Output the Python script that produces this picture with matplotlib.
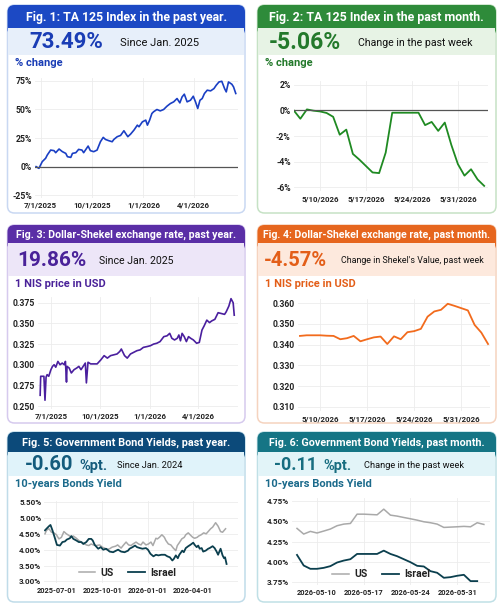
import pandas as pd
import matplotlib
matplotlib.use('Agg')
import matplotlib.pyplot as plt
import matplotlib.dates as mdates
from matplotlib.patches import FancyBboxPatch, Rectangle
from matplotlib.ticker import FuncFormatter
from matplotlib import font_manager

# ---- Fig. 1: TA 125, past year (% change)
ta_year_dates = ['2025-06-23', '2025-06-28', '2025-07-04', '2025-07-10', '2025-07-13', '2025-07-19',
                 '2025-07-25', '2025-07-28', '2025-08-03', '2025-08-09', '2025-08-15', '2025-08-18',
                 '2025-08-24', '2025-08-27', '2025-09-02', '2025-09-07', '2025-09-13', '2025-09-16',
                 '2025-09-24', '2025-09-28', '2025-10-04', '2025-10-10', '2025-10-16', '2025-10-21',
                 '2025-10-25', '2025-10-31', '2025-11-06', '2025-11-09', '2025-11-15', '2025-11-21',
                 '2025-11-27', '2025-11-30', '2025-12-04', '2025-12-09', '2025-12-15', '2025-12-21',
                 '2025-12-24', '2025-12-30', '2026-01-05', '2026-01-08', '2026-01-12', '2026-01-16',
                 '2026-01-19', '2026-01-25', '2026-01-31', '2026-02-06', '2026-02-12', '2026-02-18',
                 '2026-02-24', '2026-03-02', '2026-03-07', '2026-03-11', '2026-03-15', '2026-03-20',
                 '2026-03-26', '2026-03-31', '2026-04-04', '2026-04-08', '2026-04-12', '2026-04-16',
                 '2026-04-20', '2026-04-25', '2026-05-01', '2026-05-07', '2026-05-11', '2026-05-16',
                 '2026-05-21', '2026-05-26', '2026-05-29', '2026-06-02', '2026-06-08', '2026-06-11',
                 '2026-06-15']
ta_year_pct = [0.0, -1.5, 4.4, 7.3, 10.2, 14.5, 14.0, 12.2, 15.4, 13.1, 11.6, 8.7,
               8.1, 11.6, 12.2, 15.1, 14.5, 12.2, 18.0, 14.0, 13.1, 14.5, 21.8, 25.6,
               23.8, 22.7, 21.8, 23.8, 26.2, 27.3, 31.4, 29.1, 26.2, 28.5, 32.0, 36.3,
               34.9, 39.2, 40.7, 36.3, 40.7, 46.5, 48.0, 50.0, 48.8, 50.0, 52.9, 55.2,
               56.7, 59.6, 55.8, 61.0, 63.4, 56.7, 58.1, 61.6, 56.7, 50.9, 58.1, 59.6,
               64.0, 66.9, 66.3, 68.3, 71.2, 74.1, 74.7, 68.3, 65.4, 74.1, 72.1, 69.8,
               64.0]

# ---- Fig. 2: TA 125, past month (% change), daily 2026-05-06 .. 2026-06-04
ta_month_start, ta_month_end = '2026-05-06', '2026-06-04'
ta_month_pct = [0.0, -0.65, 0.08, -0.02, -0.08, -0.2, -0.5, -1.9, -1.5, -3.4,
                -3.85, -4.35, -4.85, -4.9, -3.3, -0.18, -0.18, -0.18, -0.18, -0.18,
                -1.15, -0.9, -1.6, -0.95, -2.7, -4.2, -5.1, -4.6, -5.4, -5.9]

# ---- Fig. 3: 1 NIS in USD, past year
fx_year_dates = ['2025-06-11', '2025-06-12', '2025-06-15', '2025-06-18', '2025-06-20', '2025-06-22',
                 '2025-06-24', '2025-06-27', '2025-07-01', '2025-07-04', '2025-07-07', '2025-07-10',
                 '2025-07-14', '2025-07-18', '2025-07-22', '2025-07-26', '2025-07-28', '2025-07-30',
                 '2025-07-31', '2025-08-04', '2025-08-08', '2025-08-13', '2025-08-18', '2025-08-22',
                 '2025-08-26', '2025-08-31', '2025-09-03', '2025-09-05', '2025-09-08', '2025-09-13',
                 '2025-09-19', '2025-09-25', '2025-10-02', '2025-10-08', '2025-10-14', '2025-10-20',
                 '2025-10-26', '2025-11-01', '2025-11-06', '2025-11-09', '2025-11-15', '2025-11-20',
                 '2025-11-26', '2025-12-02', '2025-12-08', '2025-12-14', '2025-12-20', '2025-12-27',
                 '2026-01-02', '2026-01-08', '2026-01-14', '2026-01-20', '2026-01-27', '2026-02-02',
                 '2026-02-07', '2026-02-11', '2026-02-16', '2026-02-21', '2026-02-24', '2026-02-27',
                 '2026-03-02', '2026-03-06', '2026-03-10', '2026-03-14', '2026-03-18', '2026-03-23',
                 '2026-03-29', '2026-04-03', '2026-04-08', '2026-04-12', '2026-04-17', '2026-04-22',
                 '2026-04-26', '2026-05-02', '2026-05-08', '2026-05-14', '2026-05-20', '2026-05-23',
                 '2026-05-28', '2026-06-01', '2026-06-05', '2026-06-07']
fx_year_usd = [0.263, 0.286, 0.286, 0.286, 0.257, 0.285, 0.288, 0.286, 0.294, 0.298, 0.300, 0.297,
               0.304, 0.300, 0.302, 0.300, 0.304, 0.279, 0.298, 0.296, 0.290, 0.294, 0.296, 0.298,
               0.294, 0.299, 0.302, 0.278, 0.303, 0.301, 0.301, 0.301, 0.306, 0.311, 0.308, 0.311,
               0.312, 0.313, 0.316, 0.319, 0.311, 0.308, 0.313, 0.315, 0.317, 0.318, 0.321, 0.322,
               0.323, 0.325, 0.326, 0.328, 0.334, 0.335, 0.338, 0.332, 0.330, 0.332, 0.336, 0.329,
               0.338, 0.334, 0.328, 0.334, 0.332, 0.330, 0.326, 0.327, 0.342, 0.347, 0.354, 0.351,
               0.353, 0.355, 0.363, 0.362, 0.361, 0.364, 0.371, 0.380, 0.375, 0.360]

# ---- Fig. 4: 1 NIS in USD, past month, daily 2026-05-07 .. 2026-06-04
fx_month_start, fx_month_end = '2026-05-07', '2026-06-04'
fx_month_usd = [0.3442, 0.3445, 0.3445, 0.3445, 0.3443, 0.3442, 0.3426, 0.3431, 0.3442, 0.3416,
                0.3426, 0.3435, 0.3439, 0.3403, 0.3440, 0.3426, 0.3460, 0.3465, 0.3476, 0.3535,
                0.3560, 0.3568, 0.3597, 0.3587, 0.3576, 0.3565, 0.3495, 0.3458, 0.3403]

# ---- Fig. 5: 10-year bond yields, past year
us_year_dates = ['2025-06-08', '2025-06-11', '2025-06-16', '2025-06-21', '2025-06-26', '2025-07-01',
                 '2025-07-06', '2025-07-11', '2025-07-16', '2025-07-21', '2025-07-26', '2025-07-31',
                 '2025-08-04', '2025-08-10', '2025-08-15', '2025-08-20', '2025-08-24', '2025-08-30',
                 '2025-09-04', '2025-09-09', '2025-09-13', '2025-09-19', '2025-09-26', '2025-10-01',
                 '2025-10-06', '2025-10-10', '2025-10-16', '2025-10-21', '2025-10-28', '2025-11-01',
                 '2025-11-08', '2025-11-12', '2025-11-18', '2025-11-23', '2025-11-28', '2025-12-02',
                 '2025-12-08', '2025-12-13', '2025-12-18', '2025-12-22', '2025-12-28', '2026-01-02',
                 '2026-01-07', '2026-01-11', '2026-01-17', '2026-01-20', '2026-01-24', '2026-01-29',
                 '2026-02-03', '2026-02-06', '2026-02-11', '2026-02-16', '2026-02-21', '2026-02-26',
                 '2026-03-01', '2026-03-05', '2026-03-10', '2026-03-15', '2026-03-18', '2026-03-23',
                 '2026-03-28', '2026-04-01', '2026-04-05', '2026-04-10', '2026-04-13', '2026-04-18',
                 '2026-04-23', '2026-04-28', '2026-05-02', '2026-05-07', '2026-05-11', '2026-05-17',
                 '2026-05-22', '2026-05-27', '2026-05-31', '2026-06-06']
us_year_yield = [4.50, 4.61, 4.66, 4.55, 4.53, 4.47, 4.34, 4.39, 4.57, 4.50, 4.45, 4.39,
                 4.43, 4.36, 4.29, 4.24, 4.21, 4.15, 4.13, 4.18, 4.15, 4.13, 4.15, 4.08,
                 4.05, 4.00, 4.03, 4.08, 4.11, 4.15, 4.05, 4.13, 4.24, 4.15, 4.13, 4.18,
                 4.24, 4.18, 4.15, 4.24, 4.15, 4.18, 4.24, 4.13, 4.36, 4.34, 4.39, 4.47,
                 4.39, 4.29, 4.18, 4.15, 4.05, 3.97, 4.13, 4.22, 4.34, 4.39, 4.47, 4.53,
                 4.45, 4.39, 4.36, 4.39, 4.43, 4.47, 4.53, 4.50, 4.57, 4.66, 4.71, 4.85,
                 4.74, 4.57, 4.55, 4.66]
il_year_dates = ['2025-06-08', '2025-06-11', '2025-06-16', '2025-06-19', '2025-06-23', '2025-06-28',
                 '2025-07-02', '2025-07-08', '2025-07-13', '2025-07-18', '2025-07-22', '2025-07-28',
                 '2025-07-31', '2025-08-04', '2025-08-10', '2025-08-15', '2025-08-20', '2025-08-24',
                 '2025-08-30', '2025-09-04', '2025-09-09', '2025-09-12', '2025-09-16', '2025-09-23',
                 '2025-09-28', '2025-10-03', '2025-10-09', '2025-10-16', '2025-10-23', '2025-10-29',
                 '2025-11-02', '2025-11-08', '2025-11-15', '2025-11-22', '2025-11-25', '2025-12-01',
                 '2025-12-06', '2025-12-10', '2025-12-16', '2025-12-21', '2025-12-28', '2026-01-01',
                 '2026-01-06', '2026-01-12', '2026-01-17', '2026-01-22', '2026-01-28', '2026-02-04',
                 '2026-02-09', '2026-02-14', '2026-02-19', '2026-02-22', '2026-02-26', '2026-03-02',
                 '2026-03-05', '2026-03-11', '2026-03-14', '2026-03-18', '2026-03-23', '2026-03-27',
                 '2026-04-02', '2026-04-05', '2026-04-09', '2026-04-12', '2026-04-15', '2026-04-19',
                 '2026-04-22', '2026-04-27', '2026-05-02', '2026-05-05', '2026-05-11', '2026-05-15',
                 '2026-05-19', '2026-05-22', '2026-05-24', '2026-05-27', '2026-05-31', '2026-06-03',
                 '2026-06-05', '2026-06-08']
il_year_yield = [4.61, 4.66, 4.74, 4.78, 4.61, 4.36, 4.15, 4.13, 4.24, 4.26, 4.32, 4.36,
                 4.43, 4.34, 4.29, 4.24, 4.24, 4.18, 4.24, 4.34, 4.34, 4.29, 4.15, 4.03,
                 4.08, 4.00, 4.03, 3.94, 3.92, 3.97, 4.00, 3.94, 3.92, 3.97, 4.03, 4.08,
                 4.13, 4.08, 4.05, 4.03, 4.05, 4.00, 3.87, 3.79, 3.84, 3.82, 3.84, 3.84,
                 3.79, 3.76, 3.66, 3.71, 3.82, 3.73, 3.84, 3.97, 3.92, 4.05, 4.11, 4.15,
                 4.22, 4.15, 4.08, 4.13, 4.03, 4.05, 3.94, 3.97, 4.03, 4.05, 4.11, 4.05,
                 3.94, 3.84, 3.92, 4.03, 3.82, 3.73, 3.76, 3.55]

# ---- Fig. 6: 10-year bond yields, past month, daily from 2026-05-07
bond_month_start, bond_month_end = '2026-05-07', '2026-06-04'
us_month_yield = [4.414, 4.344, 4.377, 4.357, 4.381, 4.406, 4.447, 4.467, 4.475, 4.590,
                  4.590, 4.586, 4.582, 4.652, 4.578, 4.566, 4.549, 4.533, 4.516, 4.496,
                  4.484, 4.467, 4.426, 4.430, 4.434, 4.439, 4.434, 4.484, 4.463]
il_month_yield = [4.086, 3.955, 3.914, 3.914, 3.926, 3.947, 3.992, 4.016, 4.033, 4.098,
                  4.098, 4.098, 4.098, 4.139, 4.098, 4.070, 4.033, 3.996, 3.951, 3.943,
                  3.885, 3.865, 3.803, 3.811, 3.828, 3.840, 3.762, 3.762]

year_ticks = ['2025-07-01', '2025-10-01', '2026-01-01', '2026-04-01']
week_ticks = ['2026-05-10', '2026-05-17', '2026-05-24', '2026-05-31']

names = {f.name for f in font_manager.fontManager.ttflist}
NARROW = 'Liberation Sans Narrow' if 'Liberation Sans Narrow' in names else 'Roboto'
plt.rcParams['font.family'] = ['Roboto', 'DejaVu Sans']
plt.rcParams['font.weight'] = 'bold'

W, H = 502, 604
fig = plt.figure(figsize=(W / 100, H / 100), dpi=100)
bg = fig.add_axes([0, 0, 1, 1])
bg.set_xlim(0, W)
bg.set_ylim(H, 0)
bg.axis('off')
renderer = fig.canvas.get_renderer()


def fit(t, width):
    w = t.get_window_extent(renderer).width
    t.set_fontsize(t.get_fontsize() * width / w)


def card(x0, x1, top, hb, sb, bottom, c_head, c_sub, c_border, title, title_w,
         number, num_x, num_w, num_col, note, note_x, note_w, label, label_col,
         unit=None, unit_x=None):
    bg.add_patch(FancyBboxPatch((x0, top), x1 - x0, bottom - top,
                                boxstyle='round,pad=0,rounding_size=7',
                                fc='white', ec=c_border, lw=1.1))
    bg.add_patch(FancyBboxPatch((x0, top), x1 - x0, hb - top + 8,
                                boxstyle='round,pad=0,rounding_size=7',
                                fc=c_head, ec='none'))
    bg.add_patch(Rectangle((x0 + 0.8, hb), x1 - x0 - 1.6, sb - hb, fc=c_sub, ec='none'))
    t = bg.text((x0 + x1) / 2, (top + hb) / 2 + 0.5, title, color='white', fontsize=9,
                family=NARROW, fontweight='bold', ha='center', va='center')
    fit(t, title_w)
    yc = (hb + sb) / 2
    t = bg.text(num_x, yc + 1, number, color=num_col, fontsize=16,
                fontweight='bold', ha='left', va='center')
    fit(t, num_w)
    if unit:
        bg.text(unit_x, yc + 2, unit, color=num_col, fontsize=10.5,
                fontweight='bold', ha='left', va='center')
    t = bg.text(note_x, yc + 1, note, color='#111', fontsize=8, family=NARROW,
                fontweight='normal', ha='left', va='center')
    fit(t, note_w)
    bg.text(x0 + 8, sb + 8, label, color=label_col, fontsize=8,
            fontweight='bold', ha='left', va='center')


def chart(l, t, r, b, ysize=6.2, xsize=5.7):
    ax = fig.add_axes([l / W, 1 - b / H, (r - l) / W, (b - t) / H])
    ax.set_facecolor('none')
    for s in ax.spines.values():
        s.set_visible(False)
    ax.grid(True, color='#ececec', lw=0.6)
    ax.set_axisbelow(True)
    ax.tick_params(length=0, labelsize=ysize, labelcolor='#222', pad=2)
    ax.tick_params(axis='x', labelsize=xsize, pad=3)
    return ax


mdy = FuncFormatter(lambda v, p: '{0.month}/{0.day}/{0.year}'.format(mdates.num2date(v)))
ts = pd.to_datetime

# ---------------- cards
card(7.5, 245, 5, 28, 55, 213, '#1c49c4', '#e7effa', '#c9d8f2',
     'Fig. 1: TA 125 Index in the past year.', 202, '73.49%', 29, 74, '#1a3db5',
     'Since Jan. 2025', 120, 79, '% change', '#1a3db5')
card(257.5, 496, 5, 28, 55, 213, '#2e8b3a', '#e7f3e5', '#c6e2c5',
     'Fig. 2: TA 125 Index in the past month.', 215, '-5.06%', 269, 72, '#23792b',
     'Change in the past week', 358, 114, '% change', '#23792b')
card(7.5, 245, 225, 243, 276, 423, '#5a2ea6', '#ede6f8', '#d6caee',
     'Fig. 3: Dollar-Shekel exchange rate, past year.', 219, '19.86%', 17, 69, '#4a2299',
     'Since Jan. 2025', 99, 75, '1 NIS price in USD', '#4a2299')
card(257.5, 496, 225, 243, 276, 423, '#e6661e', '#fde9dd', '#f5d3bf',
     'Fig. 4: Dollar-Shekel exchange rate, past month.', 225, '-4.57%', 264, 63, '#e35e18',
     "Change in Shekel's Value, past week", 341, 143, '1 NIS price in USD', '#e35e18')
card(7.5, 245, 432, 452, 476, 602, '#0c4a7a', '#e0f3fa', '#c0dce9',
     'Fig. 5: Government Bond Yields, past year.', 208, '-0.60', 25, 48, '#135b7c',
     'Since Jan. 2024', 117, 66, '10-years Bonds Yield', '#1b6a8b', '%pt.', 79)
card(257.5, 496, 432, 452, 476, 602, '#157585', '#e2f4f8', '#c0e0e6',
     'Fig. 6: Government Bond Yields, past month.', 216, '-0.11', 274, 43, '#176d80',
     'Change in the past week', 364, 101, '10-years Bonds Yield', '#1b6a8b', '%pt.', 323)

# ---------------- Fig. 1
ax = chart(35, 77.5, 238, 197.5)
ax.plot(ts(ta_year_dates), ta_year_pct, color='#1a3fc4', lw=1.2)
ax.axhline(0, color='#555', lw=0.9)
ax.set_ylim(-27, 78)
ax.set_yticks([-25, 0, 25, 50, 75])
ax.yaxis.set_major_formatter(FuncFormatter(lambda v, p: f'{v:.0f}%'))
ax.set_xticks(ts(year_ticks))
ax.xaxis.set_major_formatter(mdy)
ax.set_xlim(ts('2025-06-21'), ts('2026-06-19'))

# ---------------- Fig. 2
ax = chart(293.5, 81, 488, 191)
ax.plot(pd.date_range(ta_month_start, ta_month_end), ta_month_pct, color='#1f8a22', lw=1.3)
ax.axhline(0, color='#555', lw=0.9)
ax.set_ylim(-6.3, 2.3)
ax.set_yticks([-6, -4, -2, 0, 2])
ax.yaxis.set_major_formatter(FuncFormatter(lambda v, p: f'{v:.0f}%'))
ax.set_xticks(ts(week_ticks))
ax.xaxis.set_major_formatter(mdy)
ax.set_xlim(ts(ta_month_start) - pd.Timedelta(hours=1), ts(ta_month_end) + pd.Timedelta(hours=14))

# ---------------- Fig. 3
ax = chart(38, 297, 238, 408.5)
ax.plot(ts(fx_year_dates), fx_year_usd, color='#4a1f9e', lw=1.2)
ax.set_ylim(0.247, 0.382)
ax.set_yticks([0.25, 0.275, 0.30, 0.325, 0.35, 0.375])
ax.yaxis.set_major_formatter(FuncFormatter(lambda v, p: f'{v:.3f}'))
ax.set_xticks(ts(year_ticks))
ax.xaxis.set_major_formatter(mdy)
ax.set_xlim(ts('2025-06-07'), ts('2026-06-14'))

# ---------------- Fig. 4
ax = chart(298, 299, 490, 411)
ax.plot(pd.date_range(fx_month_start, fx_month_end), fx_month_usd, color='#f26b1d', lw=1.3)
ax.set_ylim(0.308, 0.362)
ax.set_yticks([0.31, 0.32, 0.33, 0.34, 0.35, 0.36])
ax.yaxis.set_major_formatter(FuncFormatter(lambda v, p: f'{v:.3f}'))
ax.set_xticks(ts(week_ticks))
ax.xaxis.set_major_formatter(mdy)
ax.set_xlim(ts(fx_month_start) - pd.Timedelta(hours=7), ts(fx_month_end) + pd.Timedelta(hours=7))

# ---------------- Fig. 5
ax = chart(44, 500.5, 238, 583, ysize=5.8, xsize=5.3)
ax.plot(ts(us_year_dates), us_year_yield, color='#a9a9a9', lw=1.1, label='US')
ax.plot(ts(il_year_dates), il_year_yield, color='#0b3f4e', lw=1.3, label='Israel')
ax.set_ylim(2.95, 5.55)
ax.set_yticks([3.0, 3.5, 4.0, 4.5, 5.0, 5.5])
ax.yaxis.set_major_formatter(FuncFormatter(lambda v, p: f'{v:.2f}%'))
ax.set_xticks(ts(year_ticks))
ax.xaxis.set_major_formatter(mdates.DateFormatter('%Y-%m-%d'))
ax.set_xlim(ts('2025-06-06'), ts('2026-07-01'))
ax.legend(loc='lower center', bbox_to_anchor=(0.43, -0.05), ncol=2, frameon=False,
          fontsize=7.5, handlelength=1.6, columnspacing=1.4, handletextpad=0.5,
          labelcolor='#222')

# ---------------- Fig. 6
ax = chart(292, 498, 490, 584.5, ysize=5.8, xsize=5.3)
days = pd.date_range(bond_month_start, bond_month_end)
ax.plot(days, us_month_yield, color='#a9a9a9', lw=1.1, label='US')
ax.plot(days[:len(il_month_yield)], il_month_yield, color='#0b3f4e', lw=1.3, label='Israel')
ax.set_ylim(3.72, 4.79)
ax.set_yticks([3.75, 4.0, 4.25, 4.5, 4.75])
ax.yaxis.set_major_formatter(FuncFormatter(lambda v, p: f'{v:.2f}%'))
ax.set_xticks(ts(week_ticks))
ax.xaxis.set_major_formatter(mdates.DateFormatter('%Y-%m-%d'))
ax.set_xlim(ts(bond_month_start) - pd.Timedelta(hours=18), ts(bond_month_end) + pd.Timedelta(hours=22))
ax.legend(loc='lower center', bbox_to_anchor=(0.45, -0.05), ncol=2, frameon=False,
          fontsize=7.5, handlelength=1.6, columnspacing=1.4, handletextpad=0.5,
          labelcolor='#222')

fig.savefig('out.png', dpi=100)
